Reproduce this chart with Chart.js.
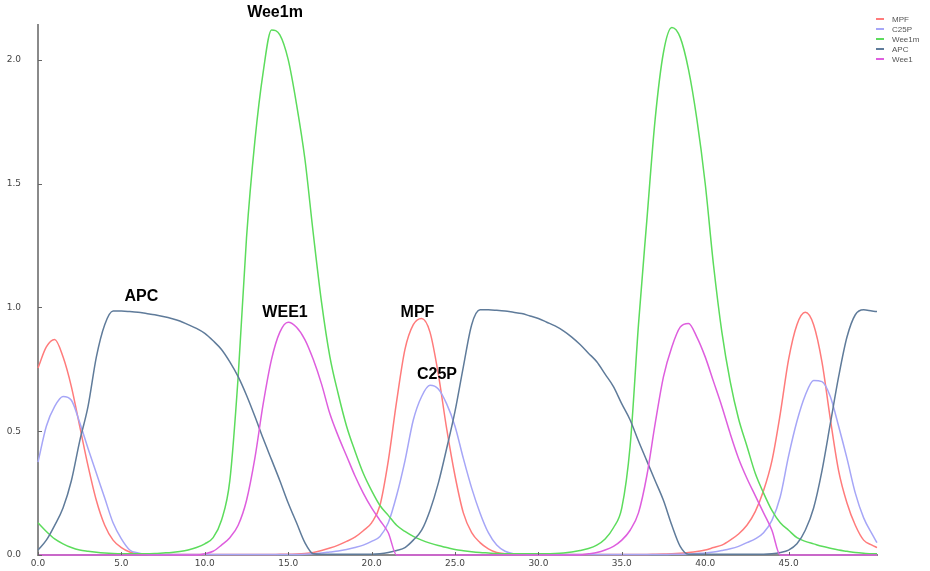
<!DOCTYPE html>
<html>
<head>
<meta charset="utf-8">
<script src="https://cdn.jsdelivr.net/npm/chart.js@4.4.0/dist/chart.umd.min.js"></script>
<style>
  html, body { margin: 0; padding: 0; background: #fff; }
  #wrap { width: 930px; height: 571px; }
</style>
</head>
<body>
<div id="wrap"><canvas id="grafico" width="930" height="571"></canvas></div>
<script>
// tempo (eixo x)
const tempo = [
  0, 0.5, 1, 1.5, 2, 2.5, 3, 3.5, 4, 4.5,
  5, 5.5, 6, 6.5, 7, 7.5, 8, 8.5, 9, 9.5,
  10, 10.5, 11, 11.5, 12, 12.5, 13, 13.5, 14, 14.5,
  15, 15.5, 16, 16.5, 17, 17.5, 18, 18.5, 19, 19.5,
  20, 20.5, 21, 21.5, 22, 22.5, 23, 23.5, 24, 24.5,
  25, 25.5, 26, 26.5, 27, 27.5, 28, 28.5, 29, 29.5,
  30, 30.5, 31, 31.5, 32, 32.5, 33, 33.5, 34, 34.5,
  35, 35.5, 36, 36.5, 37, 37.5, 38, 38.5, 39, 39.5,
  40, 40.5, 41, 41.5, 42, 42.5, 43, 43.5, 44, 44.5,
  45, 45.5, 46, 46.5, 47, 47.5, 48, 48.5, 49, 49.5,
  50, 50.3
];

const mpf = [
  0.755, 0.84, 0.87, 0.80, 0.68, 0.52, 0.36, 0.22, 0.12, 0.06,
  0.03, 0.012, 0.005, 0.003, 0.002, 0.002, 0.002, 0.002, 0.002, 0.002,
  0.002, 0.002, 0.002, 0.002, 0.002, 0.002, 0.002, 0.002, 0.002, 0.003,
  0.003, 0.004, 0.006, 0.01, 0.018, 0.028, 0.04, 0.055, 0.072, 0.098,
  0.13, 0.2, 0.38, 0.62, 0.83, 0.93, 0.955, 0.9, 0.73, 0.51,
  0.32, 0.17, 0.09, 0.05, 0.025, 0.01, 0.005, 0.003, 0.002, 0.002,
  0.002, 0.002, 0.002, 0.002, 0.002, 0.002, 0.002, 0.002, 0.002, 0.002,
  0.002, 0.002, 0.002, 0.002, 0.003, 0.004, 0.005, 0.007, 0.01, 0.014,
  0.02, 0.03, 0.04, 0.06, 0.085, 0.12, 0.175, 0.26, 0.38, 0.57,
  0.79, 0.93, 0.98, 0.93, 0.78, 0.55, 0.34, 0.21, 0.12, 0.06,
  0.04, 0.03
];

const c25p = [
  0.375, 0.52, 0.6, 0.64, 0.625, 0.535, 0.43, 0.33, 0.23, 0.13,
  0.065, 0.02, 0.008, 0.003, 0.002, 0.002, 0.002, 0.002, 0.002, 0.002,
  0.002, 0.002, 0.002, 0.002, 0.002, 0.002, 0.002, 0.002, 0.002, 0.002,
  0.002, 0.002, 0.003, 0.005, 0.008, 0.012, 0.016, 0.022, 0.03, 0.04,
  0.055, 0.075, 0.13, 0.24, 0.38, 0.545, 0.64, 0.685, 0.67, 0.61,
  0.52, 0.39, 0.27, 0.17, 0.09, 0.04, 0.015, 0.005, 0.003, 0.002,
  0.002, 0.002, 0.002, 0.002, 0.002, 0.002, 0.002, 0.002, 0.002, 0.002,
  0.002, 0.002, 0.002, 0.002, 0.002, 0.002, 0.003, 0.003, 0.004, 0.006,
  0.008, 0.012, 0.018, 0.025, 0.035, 0.05, 0.065, 0.09, 0.14, 0.235,
  0.4, 0.54, 0.645, 0.705, 0.7, 0.64, 0.52, 0.39, 0.25, 0.15,
  0.085, 0.05
];

const wee1m = [
  0.13, 0.095, 0.065, 0.045, 0.03, 0.02, 0.015, 0.011, 0.008, 0.006,
  0.005, 0.005, 0.005, 0.005, 0.006, 0.008, 0.01, 0.014, 0.02, 0.03,
  0.045, 0.07, 0.14, 0.3, 0.72, 1.28, 1.67, 1.95, 2.12, 2.10,
  2.0, 1.82, 1.6, 1.3, 1.02, 0.8, 0.65, 0.52, 0.42, 0.33,
  0.26, 0.2, 0.16, 0.12, 0.095, 0.075, 0.06, 0.048, 0.038, 0.03,
  0.022, 0.017, 0.013, 0.01, 0.008, 0.006, 0.005, 0.005, 0.005, 0.005,
  0.005, 0.005, 0.006, 0.008, 0.012, 0.018, 0.026, 0.04, 0.065, 0.11,
  0.19, 0.44, 0.93, 1.35, 1.76, 2.03, 2.13, 2.09, 1.96, 1.76,
  1.5, 1.17, 0.9, 0.7, 0.55, 0.44, 0.33, 0.25, 0.18, 0.13,
  0.1, 0.07, 0.055, 0.045, 0.035, 0.027, 0.02, 0.015, 0.01, 0.007,
  0.005, 0.005
];

const apc = [
  0.02, 0.06, 0.12, 0.19, 0.3, 0.46, 0.6, 0.8, 0.93, 0.985,
  0.985, 0.983, 0.98, 0.975, 0.97, 0.963, 0.955, 0.945, 0.93, 0.915,
  0.895, 0.865, 0.83, 0.78, 0.72, 0.645, 0.56, 0.47, 0.385, 0.3,
  0.21, 0.13, 0.05, 0.005, 0.003, 0.003, 0.003, 0.003, 0.003, 0.003,
  0.003, 0.005, 0.01, 0.018, 0.03, 0.06, 0.1, 0.18, 0.29, 0.43,
  0.58, 0.76, 0.93, 0.99, 0.99, 0.988, 0.985, 0.98, 0.975, 0.965,
  0.955, 0.94, 0.925, 0.905, 0.88, 0.85, 0.815, 0.78, 0.73, 0.68,
  0.61, 0.545, 0.46, 0.38, 0.3, 0.22, 0.12, 0.035, 0.003, 0.003,
  0.003, 0.003, 0.003, 0.003, 0.003, 0.003, 0.003, 0.003, 0.005, 0.01,
  0.02, 0.045, 0.1, 0.19, 0.34, 0.53, 0.72, 0.88, 0.97, 0.99,
  0.985, 0.983
];

const wee1 = [
  0, 0, 0, 0, 0, 0, 0, 0, 0, 0,
  0, 0, 0, 0, 0, 0, 0, 0, 0, 0,
  0.005, 0.015, 0.04, 0.07, 0.12, 0.22, 0.39, 0.61, 0.79, 0.9,
  0.94, 0.92, 0.87, 0.79, 0.69, 0.57, 0.48, 0.4, 0.32, 0.25,
  0.19, 0.14, 0.09, 0, 0, 0, 0, 0, 0, 0,
  0, 0, 0, 0, 0, 0, 0, 0, 0, 0,
  0, 0, 0, 0, 0, 0, 0.005, 0.01, 0.02, 0.035,
  0.06, 0.1, 0.17, 0.32, 0.53, 0.72, 0.84, 0.92, 0.935, 0.88,
  0.8, 0.7, 0.6, 0.49, 0.39, 0.31, 0.24, 0.17, 0.1, 0,
  0, 0, 0, 0, 0, 0, 0, 0, 0, 0,
  0, 0
];

const xTicks = [0, 5, 10, 15, 20, 25, 30, 35, 40, 45];
const yTicks = [0, 0.5, 1.0, 1.5, 2.0];

// rótulos escritos dentro do gráfico
const rotulos = ["Wee1m", "APC", "WEE1", "MPF", "C25P"];
const rotuloT = [14.21, 6.2, 14.81, 22.75, 23.92];
const rotuloV = [2.19, 1.044, 0.977, 0.979, 0.729];

function pontos(serie) {
  return tempo.map((t, i) => ({ x: t, y: serie[i] }));
}

const series = [
  { label: "MPF", data: mpf, cor: "#ff7b7b", ordem: 4 },
  { label: "C25P", data: c25p, cor: "#a6a6f7", ordem: 3 },
  { label: "Wee1m", data: wee1m, cor: "#5cdc5c", ordem: 2 },
  { label: "APC", data: apc, cor: "#5f7b9a", ordem: 1 },
  { label: "Wee1", data: wee1, cor: "#de5ede", ordem: 0 }
];

const extras = {
  id: "extras",
  afterDraw(chart) {
    const ctx = chart.ctx;
    const sx = chart.scales.x, sy = chart.scales.y;
    const area = chart.chartArea;
    ctx.save();

    // marcas dos ticks, para dentro
    ctx.strokeStyle = "#666";
    ctx.lineWidth = 1;
    yTicks.forEach(v => {
      const py = Math.round(sy.getPixelForValue(v)) + 0.5;
      ctx.beginPath();
      ctx.moveTo(area.left, py);
      ctx.lineTo(area.left + 4, py);
      ctx.stroke();
    });
    xTicks.forEach(v => {
      const px = Math.round(sx.getPixelForValue(v)) + 0.5;
      ctx.beginPath();
      ctx.moveTo(px, area.bottom);
      ctx.lineTo(px, area.bottom - 3);
      ctx.stroke();
    });

    // rótulos
    ctx.font = "bold 16px 'Liberation Sans', Arial, sans-serif";
    ctx.fillStyle = "#000";
    ctx.textAlign = "center";
    ctx.textBaseline = "middle";
    rotulos.forEach((txt, i) => {
      ctx.fillText(txt, sx.getPixelForValue(rotuloT[i]), sy.getPixelForValue(rotuloV[i]));
    });

    // legenda
    ctx.font = "8px 'Liberation Sans', Arial, sans-serif";
    ctx.textAlign = "left";
    series.forEach((s, i) => {
      const ly = 19 + i * 10;
      ctx.strokeStyle = s.cor;
      ctx.lineWidth = 2;
      ctx.beginPath();
      ctx.moveTo(876, ly);
      ctx.lineTo(884, ly);
      ctx.stroke();
      ctx.fillStyle = "#555";
      ctx.fillText(s.label, 892, ly + 0.5);
    });
    ctx.restore();
  }
};

new Chart(document.getElementById("grafico"), {
  type: "line",
  data: {
    datasets: series.map(s => ({
      label: s.label,
      data: pontos(s.data),
      borderColor: s.cor,
      backgroundColor: s.cor,
      borderWidth: 1.5,
      pointRadius: 0,
      cubicInterpolationMode: "monotone",
      order: s.ordem,
      clip: 4
    }))
  },
  options: {
    responsive: false,
    animation: false,
    layout: { padding: { top: 25, right: 53, left: 0, bottom: 0 } },
    plugins: { legend: { display: false }, tooltip: { enabled: false } },
    scales: {
      x: {
        type: "linear",
        min: 0,
        max: 50.3,
        afterFit: scale => {
          scale.height = 16;
          scale.paddingLeft = 0;
          scale.paddingRight = 0;
        },
        afterBuildTicks: scale => { scale.ticks = xTicks.map(v => ({ value: v })); },
        grid: { display: false, drawTicks: false },
        border: { display: true, color: "#8a8a8a", width: 2 },
        ticks: {
          padding: 3,
          maxRotation: 0,
          autoSkip: false,
          color: "#444",
          font: { family: "'DejaVu Sans', sans-serif", size: 9 },
          callback: v => Number(v).toFixed(1)
        }
      },
      y: {
        min: 0,
        max: 2.14,
        afterFit: scale => {
          scale.width = 38;
          scale.paddingTop = 0;
          scale.paddingBottom = 0;
        },
        afterBuildTicks: scale => { scale.ticks = yTicks.map(v => ({ value: v })); },
        grid: { display: false, drawTicks: false },
        border: { display: true, color: "#8a8a8a", width: 2 },
        ticks: {
          padding: 17,
          color: "#444",
          font: { family: "'DejaVu Sans', sans-serif", size: 9 },
          callback: v => Number(v).toFixed(1)
        }
      }
    }
  },
  plugins: [extras]
});
</script>
</body>
</html>
